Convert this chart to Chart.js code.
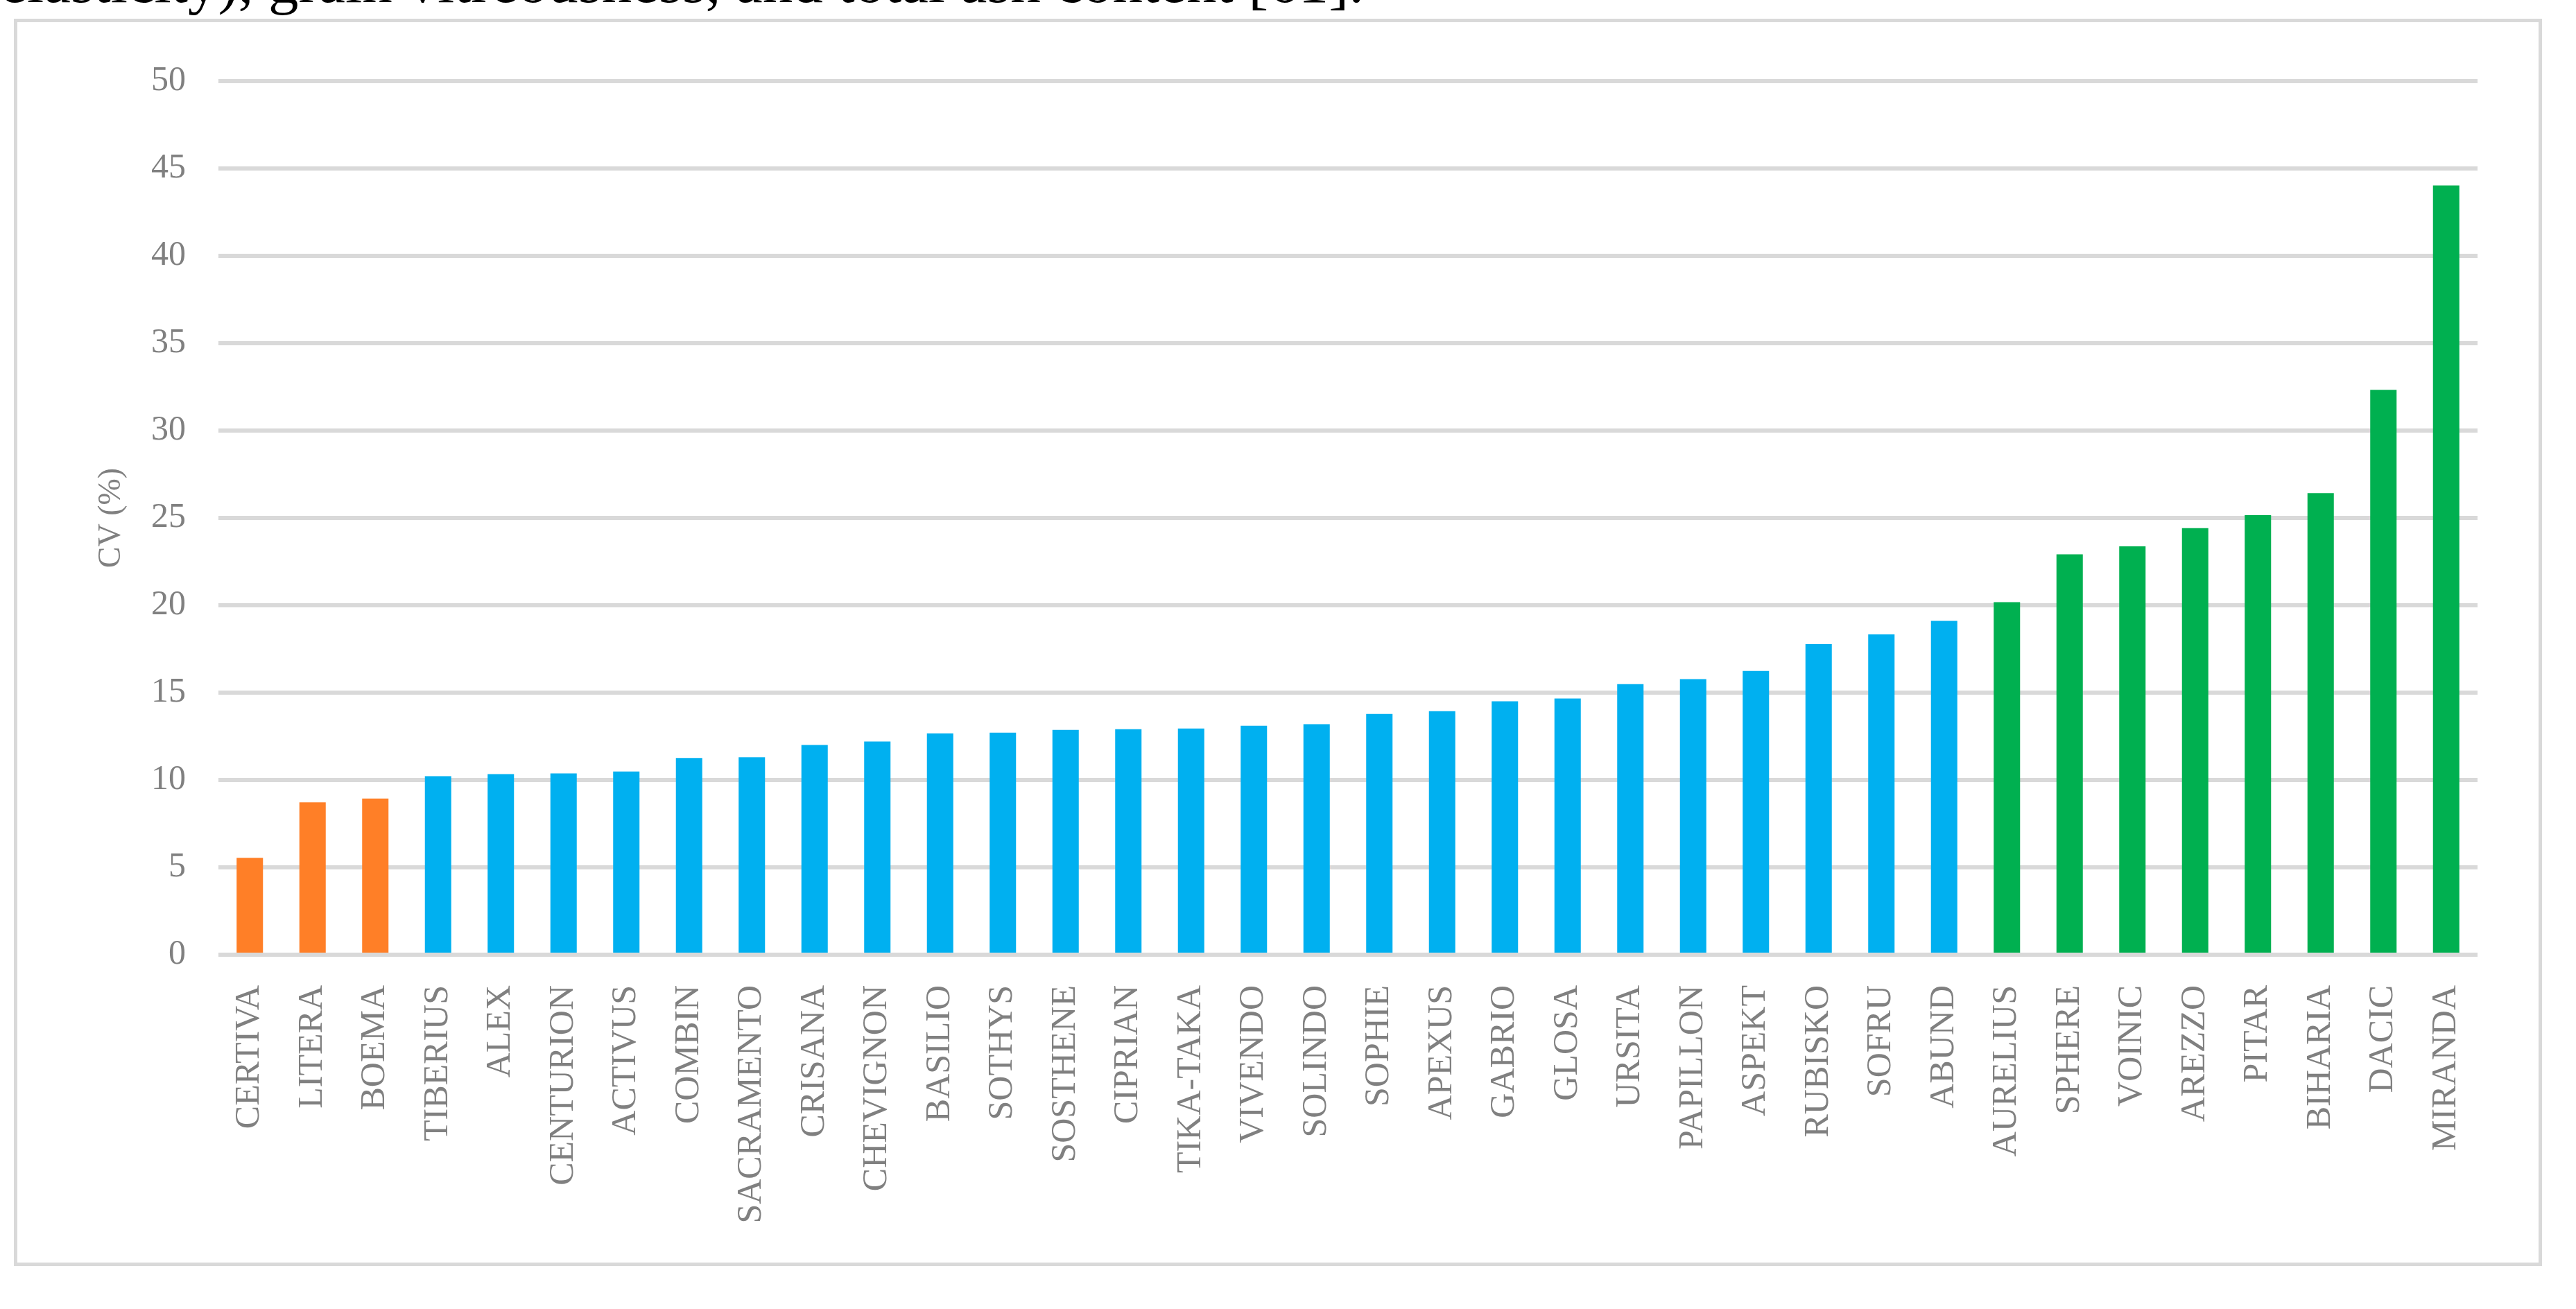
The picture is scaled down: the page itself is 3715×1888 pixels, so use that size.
<!DOCTYPE html>
<html>
<head>
<meta charset="utf-8">
<title>CV (%)</title>
<script src="https://cdn.jsdelivr.net/npm/chart.js@4.4.1/dist/chart.umd.min.js"></script>
<style>
    html, body { margin: 0; padding: 0; background: #fff; overflow: hidden; }
    body { width: 3715px; height: 1888px; position: relative; }
    .lead {
        position: absolute; right: 1748px; top: -70px;
        white-space: nowrap;
        font-family: "Liberation Serif", serif; font-size: 87px; line-height: 1; color: #000;
    }
    .frame {
        position: absolute; left: 20px; top: 27px; width: 3636px; height: 1789px;
        border: 5px solid #d9d9d9;
    }
    #cvChart { position: absolute; left: 0; top: 0; }
</style>
</head>
<body>
<div class="lead">elasticity), grain vitreousness, and total ash content [61].</div>
<div class="frame"></div>
<canvas id="cvChart" width="3715" height="1888"></canvas>
<script>
// 品种名称
const categories = [
    'CERTIVA', 'LITERA', 'BOEMA', 'TIBERIUS', 'ALEX', 'CENTURION', 'ACTIVUS', 'COMBIN',
    'SACRAMENTO', 'CRISANA', 'CHEVIGNON', 'BASILIO', 'SOTHYS', 'SOSTHENE', 'CIPRIAN',
    'TIKA-TAKA', 'VIVENDO', 'SOLINDO', 'SOPHIE', 'APEXUS', 'GABRIO', 'GLOSA', 'URSITA',
    'PAPILLON', 'ASPEKT', 'RUBISKO', 'SOFRU', 'ABUND', 'AURELIUS', 'SPHERE', 'VOINIC',
    'AREZZO', 'PITAR', 'BIHARIA', 'DACIC', 'MIRANDA'
];

// 变异系数 CV (%)
const cvValues = [
    5.55, 8.72, 8.94, 10.22, 10.34, 10.38, 10.49, 11.26,
    11.30, 12.00, 12.20, 12.67, 12.71, 12.87, 12.91,
    12.95, 13.11, 13.19, 13.78, 13.94, 14.50, 14.66, 15.49,
    15.77, 16.24, 17.78, 18.33, 19.11, 20.18, 22.92, 23.37,
    24.41, 25.16, 26.42, 32.33, 44.03
];

// 分组 (low / mid / high)
const groups = [
    'low', 'low', 'low', 'mid', 'mid', 'mid', 'mid', 'mid',
    'mid', 'mid', 'mid', 'mid', 'mid', 'mid', 'mid',
    'mid', 'mid', 'mid', 'mid', 'mid', 'mid', 'mid', 'mid',
    'mid', 'mid', 'mid', 'mid', 'mid', 'high', 'high', 'high',
    'high', 'high', 'high', 'high', 'high'
];

// y 轴刻度
const yTicks = { min: 0, max: 50, step: 5 };

const groupColors = { low: '#FF7F27', mid: '#00B0F0', high: '#00B050' };
const textGray = '#808080';
const serif = '"Liberation Serif", "Times New Roman", serif';

new Chart(document.getElementById('cvChart'), {
    type: 'bar',
    data: {
        labels: categories,
        datasets: [{
            data: cvValues,
            backgroundColor: groups.map(g => groupColors[g]),
            borderWidth: 0,
            categoryPercentage: 1,
            barPercentage: 0.42
        }]
    },
    options: {
        responsive: false,
        animation: false,
        layout: {
            padding: { left: 100, right: 142, top: 117, bottom: 90 }
        },
        plugins: {
            legend: { display: false },
            tooltip: { enabled: false }
        },
        scales: {
            x: {
                grid: { display: false },
                border: { display: false },
                ticks: {
                    color: textGray,
                    font: { family: serif, size: 50 },
                    minRotation: 90,
                    maxRotation: 90,
                    autoSkip: false,
                    padding: 36
                },
                afterFit: scale => { scale.height = 421; }
            },
            y: {
                min: yTicks.min,
                max: yTicks.max,
                border: { display: false },
                grid: { color: '#d9d9d9', lineWidth: 6, drawTicks: false },
                ticks: {
                    stepSize: yTicks.step,
                    color: textGray,
                    font: { family: serif, size: 50 },
                    padding: 47
                },
                title: {
                    display: true,
                    text: 'CV (%)',
                    color: textGray,
                    font: { family: serif, size: 46 },
                    padding: { top: 33, bottom: 0 }
                },
                afterFit: scale => { scale.width = 215; }
            }
        }
    }
});
</script>
</body>
</html>
